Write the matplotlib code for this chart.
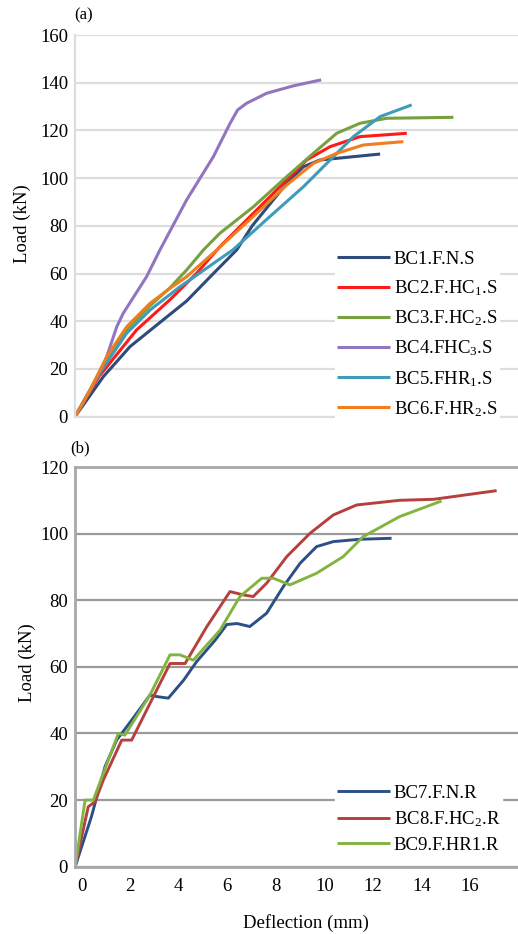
import matplotlib
matplotlib.use('Agg')
import matplotlib.pyplot as plt

plt.rcParams['font.family'] = ['Liberation Serif', 'DejaVu Serif']
plt.rcParams['mathtext.fontset'] = 'custom'
plt.rcParams['mathtext.rm'] = 'Liberation Serif'
plt.rcParams['mathtext.it'] = 'Liberation Serif:italic'

# ---- data, panel (a) : static specimens ----
bc1_x = [0, 1.17, 2.27, 3.5, 4.6, 5.7, 6.66, 7.3, 8.72, 9.41, 10.09, 11.47, 12.57]
bc1_y = [0, 16.8, 29.4, 39.5, 48.5, 60, 69.9, 80, 97.8, 104.8, 107.6, 109.0, 110.1]
bc2_x = [0, 1.0, 2.54, 3.91, 5.0, 5.97, 7.35, 8.72, 9.54, 10.51, 11.74, 13.67]
bc2_y = [0, 17, 36.4, 49, 60, 71.3, 85.3, 99.2, 107.6, 113.2, 117.4, 118.8]
bc3_x = [0, 0.62, 1.31, 2.13, 3.09, 3.91, 4.6, 5.29, 5.97, 7.35, 8.72, 9.82, 10.78, 11.74, 12.84, 15.59]
bc3_y = [0, 11, 24.5, 36.5, 46.5, 54, 61.5, 69.9, 76.9, 88, 100.6, 110.4, 118.8, 123, 125.1, 125.5]
bc4_x = [0, 1.17, 1.72, 1.99, 2.95, 3.5, 4.6, 5.7, 6.39, 6.7, 7.07, 7.9, 9.0, 10.14]
bc4_y = [0, 21, 37.7, 43.4, 58.7, 69.9, 90.9, 109, 123, 128.6, 131.4, 135.6, 138.7, 141.2]
bc5_x = [0, 1.0, 2.13, 3.09, 4.33, 6.5, 8.04, 9.41, 10.51, 11.47, 12.57, 13.87]
bc5_y = [0, 18, 35, 44.7, 54.5, 69.9, 84, 96.4, 107.6, 117.4, 125.8, 130.7]
bc6_x = [0, 0.62, 1.31, 2.13, 3.09, 3.91, 4.6, 5.84, 7.35, 8.72, 9.82, 10.78, 11.88, 13.53]
bc6_y = [0, 11.2, 25.2, 37.7, 47.5, 53.8, 58.7, 69.9, 84, 97.1, 106.2, 110.4, 113.9, 115.3]

# ---- data, panel (b) : retrofitted specimens ----
bc7_x = [-0.27, 0.4, 0.96, 1.44, 2.06, 2.81, 3.16, 3.57, 4.2, 4.74, 5.5, 5.98, 6.4, 6.93, 7.62, 8.31, 9.0, 9.68, 10.37, 11.47, 12.77]
bc7_y = [0, 15, 30, 38, 44, 51.5, 51, 50.6, 56, 61.6, 68, 72.7, 73, 72.1, 76.1, 84.1, 91.1, 96.1, 97.6, 98.3, 98.6]
bc8_x = [-0.27, 0.27, 0.55, 0.89, 1.65, 2.06, 2.95, 3.64, 4.26, 5.15, 6.11, 6.66, 7.07, 7.62, 8.45, 9.41, 10.37, 11.33, 13.1, 14.5, 17.1]
bc8_y = [0, 18, 19.5, 26, 38, 38, 51, 61, 61, 72, 82.6, 81.6, 81.1, 85.1, 93.1, 100.1, 105.6, 108.6, 110, 110.3, 112.9]
bc9_x = [-0.27, 0.14, 0.48, 0.89, 1.51, 1.78, 2.81, 3.64, 4.05, 4.6, 5.7, 6.52, 7.42, 7.9, 8.58, 9.68, 10.78, 11.6, 13.1, 14.83]
bc9_y = [0, 20, 20, 28, 40, 39.5, 51.5, 63.6, 63.6, 62, 71, 81.1, 86.6, 86.6, 84.6, 88.1, 93.1, 99.1, 105.1, 109.8]

labels_a = ['BC1.F.N.S', r'BC2.F.HC$_{\mathrm{1}}$.S', r'BC3.F.HC$_{\mathrm{2}}$.S',
            r'BC4.FHC$_{\mathrm{3}}$.S', r'BC5.FHR$_{\mathrm{1}}$.S', r'BC6.F.HR$_{\mathrm{2}}$.S']
colors_a = ['#2e4b7a', '#ff1a1a', '#77a03f', '#9175bf', '#3f9cb8', '#f07d1e']
labels_b = ['BC7.F.N.R', r'BC8.F.HC$_{\mathrm{2}}$.R', 'BC9.F.HR1.R']
colors_b = ['#2b4f86', '#b5403e', '#82b440']

yticks_a = [0, 20, 40, 60, 80, 100, 120, 140, 160]
yticks_b = [0, 20, 40, 60, 80, 100, 120]
xticks_b = [0, 2, 4, 6, 8, 10, 12, 14, 16]

fig = plt.figure(figsize=(5.18, 9.34), dpi=100)
fs = 13.5

# panel (a)
ax1 = fig.add_axes([0.1448, 0.5539, 0.8552, 0.4086])
series_a = [(bc1_x, bc1_y), (bc2_x, bc2_y), (bc3_x, bc3_y), (bc4_x, bc4_y), (bc5_x, bc5_y), (bc6_x, bc6_y)]
for (xs, ys), c, lab in zip(series_a, colors_a, labels_a):
    ax1.plot(xs, ys, color=c, lw=2.2, label=lab, solid_capstyle='butt')
ax1.set_xlim(0, 18.25)
ax1.set_ylim(0, 160)
ax1.set_yticks(yticks_a)
ax1.set_xticks([])
ax1.tick_params(axis='y', length=0, pad=5, labelsize=fs)
ax1.grid(axis='y', color='#dddddd', lw=1.6)
ax1.set_axisbelow(True)
for s in ['top', 'right']:
    ax1.spines[s].set_visible(False)
ax1.spines['left'].set_color('#dddddd')
ax1.spines['bottom'].set_color('#dddddd')
ax1.spines['left'].set_linewidth(1.6)
ax1.spines['bottom'].set_linewidth(1.6)
ax1.set_ylabel('Load (kN)', fontsize=fs, va='center')
ax1.yaxis.set_label_coords(-0.12, 0.507)
leg1 = ax1.legend(loc='upper left', bbox_to_anchor=(0.587, 0.44), fontsize=fs,
                  frameon=True, fancybox=False, framealpha=1, edgecolor='white',
                  borderpad=0.1, borderaxespad=0, handlelength=2.83,
                  handletextpad=0.2, labelspacing=0.56)

# panel (b)
ax2 = fig.add_axes([0.1448, 0.0721, 0.8552, 0.4279])
series_b = [(bc7_x, bc7_y), (bc8_x, bc8_y), (bc9_x, bc9_y)]
for (xs, ys), c, lab in zip(series_b, colors_b, labels_b):
    ax2.plot(xs, ys, color=c, lw=2.1, label=lab, solid_capstyle='butt')
ax2.set_xlim(-0.276, 17.98)
ax2.set_ylim(0, 120)
ax2.set_yticks(yticks_b)
ax2.set_xticks(xticks_b)
ax2.tick_params(length=0, labelsize=fs)
ax2.tick_params(axis='y', pad=5)
ax2.tick_params(axis='x', pad=8)
ax2.grid(axis='y', color='#9a9a9a', lw=1.6)
ax2.set_axisbelow(True)
ax2.spines['right'].set_visible(False)
for s in ['top', 'left', 'bottom']:
    ax2.spines[s].set_color('#a8a8a8')
    ax2.spines[s].set_linewidth(2)
ax2.set_ylabel('Load (kN)', fontsize=fs, va='center')
ax2.yaxis.set_label_coords(-0.108, 0.51)
ax2.set_xlabel('Deflection (mm)', fontsize=fs, va='center')
ax2.xaxis.set_label_coords(0.521, -0.141)
leg2 = ax2.legend(loc='upper left', bbox_to_anchor=(0.587, 0.21), fontsize=fs,
                  frameon=True, fancybox=False, framealpha=1, edgecolor='white',
                  borderpad=0.1, borderaxespad=0, handlelength=2.83,
                  handletextpad=0.2, labelspacing=0.4)

fig.text(0.162, 0.984, '(a)', fontsize=12, ha='center', va='center')
fig.text(0.1544, 0.5203, '(b)', fontsize=12, ha='center', va='center')

fig.savefig('out.png', dpi=100)
